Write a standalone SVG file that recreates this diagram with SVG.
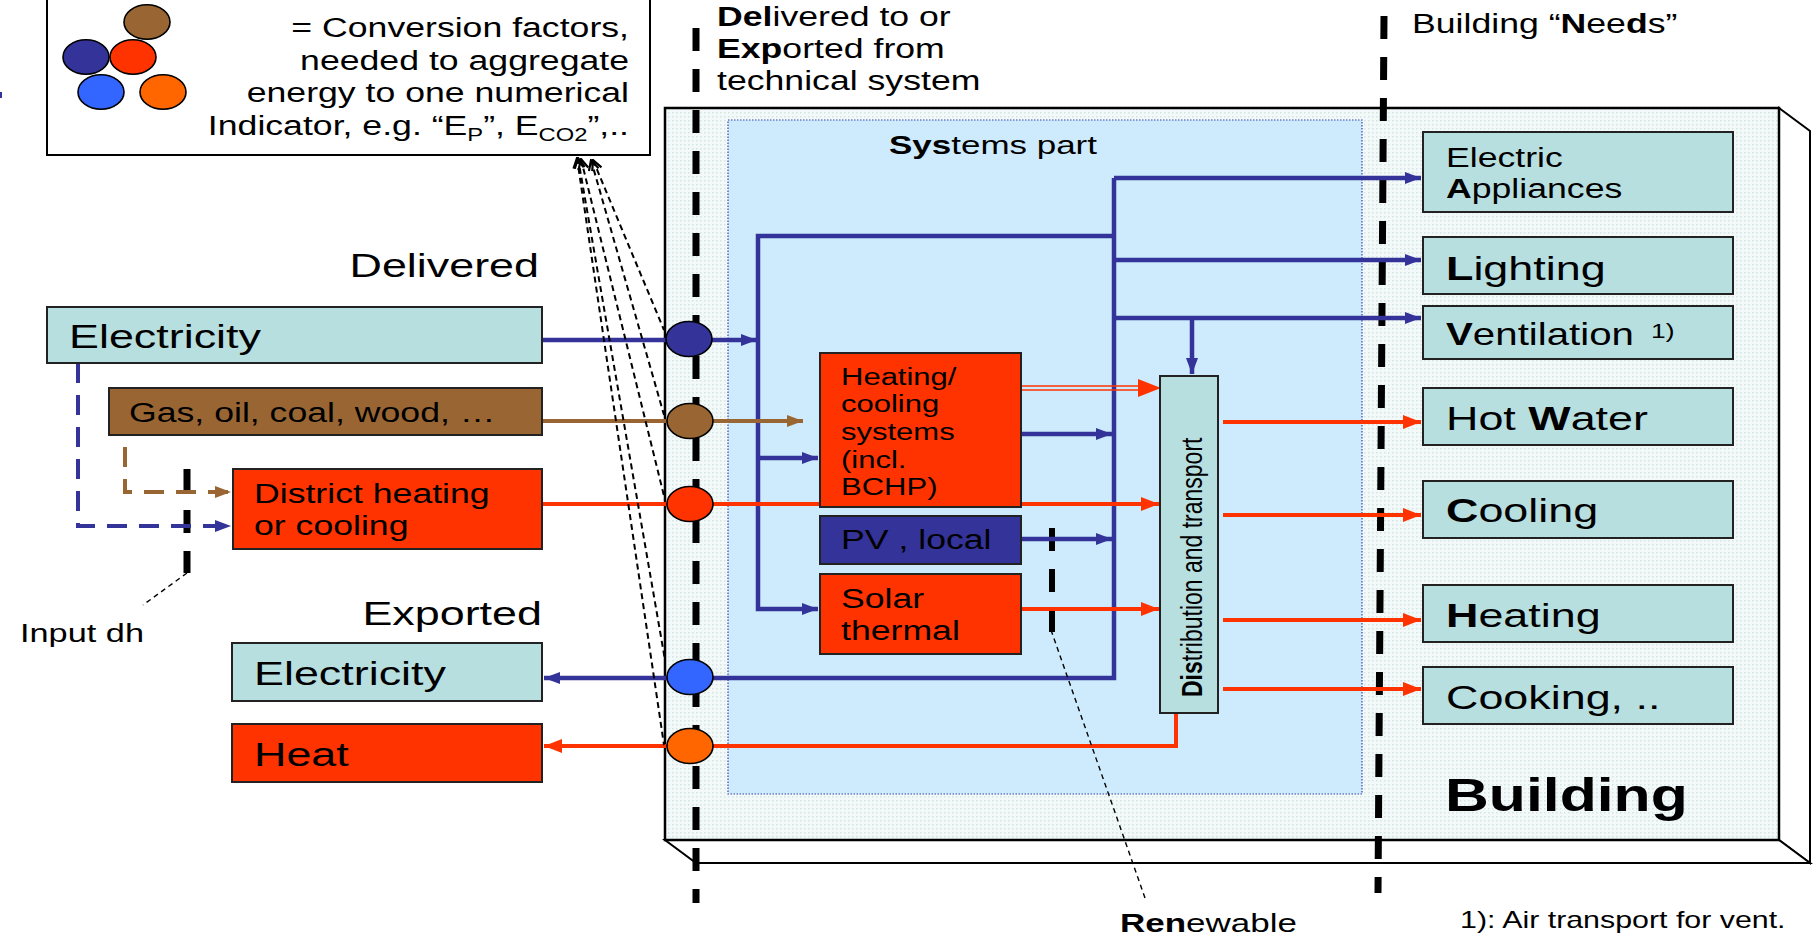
<svg xmlns="http://www.w3.org/2000/svg" width="1819" height="937" viewBox="0 0 1819 937">
<style>
text{font-family:"Liberation Sans",Arial,sans-serif;fill:#000}
.b{font-weight:bold}
.box{stroke:#222;stroke-width:2}
.teal{fill:#b8dfe0}
.red{fill:#ff3300}
.bl{fill:none;stroke:#333399;stroke-width:4.5}
.rd{fill:none;stroke:#ff3300;stroke-width:4}
.br{fill:none;stroke:#996633;stroke-width:4}
.bnd{fill:none;stroke:#000;stroke-width:7;stroke-dasharray:23 18}
.thin{fill:none;stroke:#000;stroke-width:1.4;stroke-dasharray:5 4}
.leg{fill:none;stroke:#000;stroke-width:2;stroke-dasharray:6 4;marker-start:url(#chev)}
.ell{stroke:#000;stroke-width:1.6}
</style>
<defs>
<pattern id="dots" width="4" height="4" patternUnits="userSpaceOnUse"><rect width="4" height="4" fill="#f3f9f9"/><rect width="1.5" height="1.5" fill="#d3e4e4"/></pattern>
<marker id="ab" viewBox="0 0 16 12" refX="16" refY="6" markerWidth="16" markerHeight="12" markerUnits="userSpaceOnUse" orient="auto"><path d="M0,0L16,6L0,12z" fill="#333399"/></marker>
<marker id="ar" viewBox="0 0 18 14" refX="18" refY="7" markerWidth="18" markerHeight="14" markerUnits="userSpaceOnUse" orient="auto"><path d="M0,0L18,7L0,14z" fill="#ff3300"/></marker>
<marker id="abr" viewBox="0 0 16 12" refX="16" refY="6" markerWidth="16" markerHeight="12" markerUnits="userSpaceOnUse" orient="auto"><path d="M0,0L16,6L0,12z" fill="#996633"/></marker>
<marker id="chev" viewBox="0 0 12 12" refX="11" refY="6" markerWidth="12" markerHeight="12" markerUnits="userSpaceOnUse" orient="auto-start-reverse"><path d="M1,1L11,6L1,11" fill="none" stroke="#000" stroke-width="2.2"/></marker>
</defs>

<rect x="0" y="92" width="2" height="6" fill="#333399"/>

<g id="building">
<polygon points="1779,108 1810,131 1810,863 1779,840" fill="#fff" stroke="#000" stroke-width="2"/>
<polygon points="665,840 1779,840 1810,863 696,863" fill="#fff" stroke="#000" stroke-width="2"/>
<rect x="665" y="108" width="1114" height="732" fill="url(#dots)" stroke="#000" stroke-width="2.5"/>
<text class="b" font-size="46" transform="matrix(1.32 0 0 1 1445 811)">Building</text>
</g>

<g id="systems-part">
<rect x="728" y="120" width="634" height="674" fill="#cdebfc" stroke="#3344aa" stroke-width="1.2" stroke-dasharray="1.5 1.5"/>
<text font-size="26.5" text-anchor="middle" transform="matrix(1.32 0 0 1 993 154)"><tspan class="b">Sys</tspan>tems part</text>
</g>

<g id="boundaries">
<line class="bnd" x1="696" y1="28" x2="696" y2="903"/>
<line class="bnd" x1="1384" y1="16" x2="1378" y2="893"/>
<line class="bnd" x1="187" y1="469" x2="187" y2="573"/>
<line class="bnd" x1="1052" y1="528" x2="1052" y2="632" style="stroke-width:6"/>
</g>

<g id="connectors">
<path class="bl" d="M542,340H757" marker-end="url(#ab)"/>
<path class="bl" d="M1114,236H758V609H818" marker-end="url(#ab)"/>
<path class="bl" d="M758,458H818" marker-end="url(#ab)"/>
<path class="bl" d="M1114,178V678H544" marker-end="url(#ab)"/>
<path class="bl" d="M1114,178H1421" marker-end="url(#ab)"/>
<path class="bl" d="M1114,260H1421" marker-end="url(#ab)"/>
<path class="bl" d="M1114,318H1421" marker-end="url(#ab)"/>
<path class="bl" d="M1192,318V374" marker-end="url(#ab)"/>
<path class="bl" d="M1021,434H1112" marker-end="url(#ab)"/>
<path class="bl" d="M1021,539H1112" marker-end="url(#ab)"/>
<path class="br" d="M542,421H803" marker-end="url(#abr)"/>
<path class="rd" d="M542,504H1159" marker-end="url(#ar)"/>
<path class="rd" d="M1021,609H1159" marker-end="url(#ar)"/>
<path d="M1021,386H1142M1021,390H1142" stroke="#ff3300" stroke-width="1.6" fill="none"/>
<path d="M1138,379L1161,388L1138,397z" fill="#ff3300"/>
<path class="rd" d="M1223,422H1421" marker-end="url(#ar)"/>
<path class="rd" d="M1223,515H1421" marker-end="url(#ar)"/>
<path class="rd" d="M1223,620H1421" marker-end="url(#ar)"/>
<path class="rd" d="M1223,689H1421" marker-end="url(#ar)"/>
<path class="rd" d="M1176,713V746H544" marker-end="url(#ar)"/>
<path d="M78,363V526H231" fill="none" stroke="#333399" stroke-width="4" stroke-dasharray="20 12" marker-end="url(#ab)"/>
<path d="M125,447V492H231" fill="none" stroke="#996633" stroke-width="4" stroke-dasharray="20 12" marker-end="url(#abr)"/>
<path class="thin" d="M187,573L143,605"/>
<path class="thin" d="M1051,630L1145,898"/>
<path class="leg" d="M577,158L664,745"/>
<path class="leg" d="M578,158L665,660"/>
<path class="leg" d="M581,159L665,500"/>
<path class="leg" d="M591,160L664,415"/>
<path class="leg" d="M593,160L664,330"/>
</g>

<g id="legend">
<rect x="47" y="-2" width="603" height="157" fill="#fff" stroke="#000" stroke-width="2"/>
<ellipse class="ell" cx="147" cy="22" rx="23" ry="17.3" fill="#996633"/>
<ellipse class="ell" cx="86" cy="57" rx="23" ry="17.3" fill="#333399"/>
<ellipse class="ell" cx="133" cy="57" rx="23" ry="17.3" fill="#ff3300"/>
<ellipse class="ell" cx="101" cy="92" rx="23" ry="17.3" fill="#3366ff"/>
<ellipse class="ell" cx="163" cy="92" rx="23" ry="17.3" fill="#ff6600"/>
<g font-size="27" text-anchor="end">
<text transform="matrix(1.32 0 0 1 629 37)">= Conversion factors,</text>
<text transform="matrix(1.32 0 0 1 629 70)">needed to aggregate</text>
<text transform="matrix(1.32 0 0 1 629 102)">energy to one numerical</text>
<text transform="matrix(1.32 0 0 1 629 135)">Indicator, e.g. “E<tspan font-size="18" dy="6">P</tspan><tspan dy="-6">”, E</tspan><tspan font-size="18" dy="6">CO2</tspan><tspan dy="-6">”,..</tspan></text>
</g>
</g>

<g id="labels">
<text font-size="27" transform="matrix(1.32 0 0 1 717 26)"><tspan class="b">Del</tspan>ivered to or</text>
<text font-size="27" transform="matrix(1.32 0 0 1 717 58)"><tspan class="b">Exp</tspan>orted from</text>
<text font-size="27" transform="matrix(1.32 0 0 1 717 90)">technical system</text>
<text font-size="27" transform="matrix(1.32 0 0 1 1412 33)">Building “<tspan class="b">N</tspan>ee<tspan class="b">d</tspan>s”</text>
<text font-size="34" text-anchor="end" transform="matrix(1.32 0 0 1 539 277)">Delivered</text>
<text font-size="34" text-anchor="end" transform="matrix(1.32 0 0 1 542 625)">Exported</text>
<text font-size="26" transform="matrix(1.32 0 0 1 20 642)">Input dh</text>
<text font-size="26.5" transform="matrix(1.32 0 0 1 1120 932)"><tspan class="b">Ren</tspan>ewable</text>
<text font-size="23" transform="matrix(1.32 0 0 1 1460 928)">1): Air transport for vent.</text>
</g>

<g id="in-electricity">
<rect class="box teal" x="47" y="307" width="495" height="56"/>
<text font-size="34" transform="matrix(1.32 0 0 1 69 348)">Electricity</text>
</g>
<g id="in-gas">
<rect class="box" x="109" y="388" width="433" height="47" fill="#996633"/>
<text font-size="27" transform="matrix(1.32 0 0 1 129 422)">Gas, oil, coal, wood, …</text>
</g>
<g id="in-district">
<rect class="box red" x="233" y="469" width="309" height="80"/>
<text font-size="27" transform="matrix(1.32 0 0 1 254 503)">District heating</text>
<text font-size="27" transform="matrix(1.32 0 0 1 254 535)">or cooling</text>
</g>
<g id="out-electricity">
<rect class="box teal" x="232" y="643" width="310" height="58"/>
<text font-size="34" transform="matrix(1.32 0 0 1 254 685)">Electricity</text>
</g>
<g id="out-heat">
<rect class="box red" x="232" y="724" width="310" height="58"/>
<text font-size="34" transform="matrix(1.32 0 0 1 254 766)">Heat</text>
</g>

<g id="heating-cooling">
<rect class="box red" x="820" y="353" width="201" height="154"/>
<g font-size="23.5">
<text transform="matrix(1.32 0 0 1 841 385)">Heating/</text>
<text transform="matrix(1.32 0 0 1 841 412)">cooling</text>
<text transform="matrix(1.32 0 0 1 841 440)">systems</text>
<text transform="matrix(1.32 0 0 1 841 468)">(incl.</text>
<text transform="matrix(1.32 0 0 1 841 495)">BCHP)</text>
</g>
</g>
<g id="pv-local">
<rect class="box" x="820" y="516" width="201" height="48" fill="#333399"/>
<text font-size="27" transform="matrix(1.32 0 0 1 841 549)">PV , local</text>
</g>
<g id="solar-thermal">
<rect class="box red" x="820" y="574" width="201" height="80"/>
<text font-size="27" transform="matrix(1.32 0 0 1 841 608)">Solar</text>
<text font-size="27" transform="matrix(1.32 0 0 1 841 640)">thermal</text>
</g>
<g id="distribution">
<rect class="box teal" x="1160" y="376" width="58" height="337"/>
<text font-size="23" transform="translate(1202 697) scale(1.32 1) rotate(-90)"><tspan class="b">Dis</tspan>tribution and transport</text>
</g>

<g id="need-appliances">
<rect class="box teal" x="1423" y="132" width="310" height="80"/>
<text font-size="27" transform="matrix(1.32 0 0 1 1446 167)">Electric</text>
<text font-size="27" transform="matrix(1.32 0 0 1 1446 198)"><tspan class="b">A</tspan>ppliances</text>
</g>
<g id="need-lighting">
<rect class="box teal" x="1423" y="237" width="310" height="57"/>
<text font-size="34" transform="matrix(1.32 0 0 1 1446 280)"><tspan class="b">L</tspan>ighting</text>
</g>
<g id="need-ventilation">
<rect class="box teal" x="1423" y="306" width="310" height="53"/>
<text font-size="30.5" transform="matrix(1.32 0 0 1 1446 345)"><tspan class="b">V</tspan>entilation</text>
<text font-size="20" transform="matrix(1.32 0 0 1 1651 338)">1)</text>
</g>
<g id="need-hotwater">
<rect class="box teal" x="1423" y="388" width="310" height="57"/>
<text font-size="34" transform="matrix(1.32 0 0 1 1446 430)">Hot <tspan class="b">W</tspan>ater</text>
</g>
<g id="need-cooling">
<rect class="box teal" x="1423" y="481" width="310" height="57"/>
<text font-size="34" transform="matrix(1.32 0 0 1 1446 522)"><tspan class="b">C</tspan>ooling</text>
</g>
<g id="need-heating">
<rect class="box teal" x="1423" y="585" width="310" height="57"/>
<text font-size="34" transform="matrix(1.32 0 0 1 1446 627)"><tspan class="b">H</tspan>eating</text>
</g>
<g id="need-cooking">
<rect class="box teal" x="1423" y="667" width="310" height="57"/>
<text font-size="34" transform="matrix(1.32 0 0 1 1446 709)">Cooking, ..</text>
</g>

<g id="factors">
<ellipse class="ell" cx="689" cy="339" rx="23" ry="17.5" fill="#333399"/>
<ellipse class="ell" cx="690" cy="421" rx="23" ry="17.5" fill="#996633"/>
<ellipse class="ell" cx="690" cy="504" rx="23" ry="17.5" fill="#ff3300"/>
<ellipse class="ell" cx="690" cy="677" rx="23" ry="17.5" fill="#3366ff"/>
<ellipse class="ell" cx="690" cy="746" rx="23" ry="17.5" fill="#ff6600"/>
</g>
</svg>
